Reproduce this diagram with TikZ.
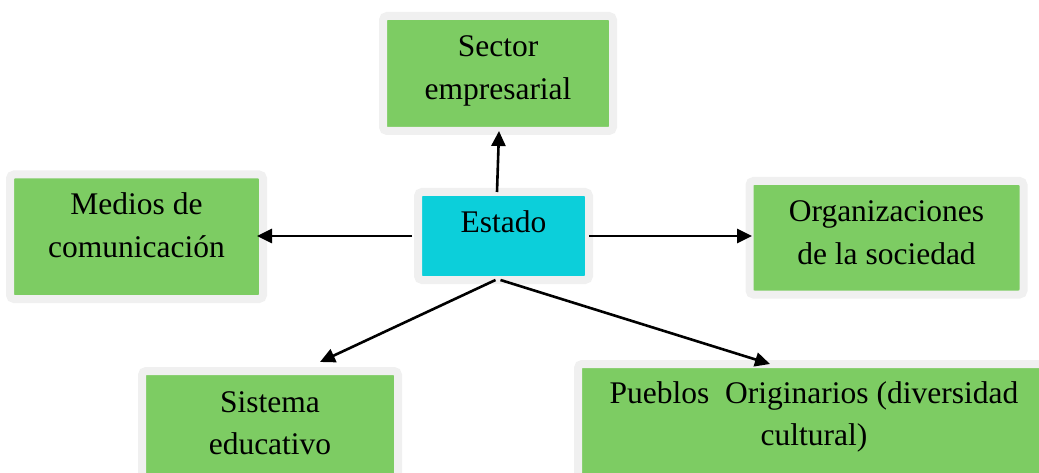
\documentclass[tikz,border=0pt]{standalone}
\usepackage{fontspec}
\setmainfont{Liberation Serif}
\usetikzlibrary{arrows.meta}
\definecolor{boxgreen}{RGB}{125,204,99}
\definecolor{boxcyan}{RGB}{12,207,218}
\definecolor{boxframe}{RGB}{240,240,240}
\def \colorBox{boxgreen}
\def \colorCenter{boxcyan}
\tikzset{
 actor/.style={draw=boxframe, line width=8pt, rounded corners=4pt, fill=\colorBox,
  inner sep=0pt, outer sep=0pt, anchor=north west, align=flush center,
  font=\fontsize{31.5}{42.5}\selectfont},
 link/.style={line width=2.6pt, -{Triangle[length=15pt,width=14pt]}}
}
\begin{document}
\begin{tikzpicture}[x=1pt, y=-1pt]
\clip (0, 0) rectangle (1039, 473);
\node[actor, text width=230pt, text height=41pt, text depth=74pt] (sector) at (383, 16) {Sector\\empresarial};
\node[actor, text width=253pt, text height=40.5pt, text depth=84pt] (medios) at (10, 174.5) {Medios de\\comunicación};
\node[actor, fill=\colorCenter, text width=171pt, text height=41pt, text depth=47pt] (estado) at (418, 192) {Estado};
\node[actor, text width=274pt, text height=41pt, text depth=72.5pt] (orgs) at (749.5, 181) {Organizaciones\\de la sociedad};
\node[actor, text width=256pt, text height=41pt, text depth=120pt] (sistema) at (142, 371) {Sistema\\educativo};
\node[actor, text width=472pt, text height=39pt, text depth=110pt] (pueblos) at (578, 364) {Pueblos\ \ Originarios (diversidad\\cultural)};

\draw[link] ([xshift=-6.5pt]estado.north) -- ([xshift=1pt]sector.south);
\draw[link, shorten >=-6pt] ([xshift=-6pt]estado.west) -- (estado.west -| medios.east);
\draw[link, shorten >=-2.5pt] (estado.east) -- (estado.east -| orgs.west);
\draw[link] ([xshift=-8pt]estado.south) -- ([xshift=50pt, yshift=9pt]sistema.north);
\draw[link] ([xshift=-3pt]estado.south) -- ([xshift=-44pt]pueblos.north);
\end{tikzpicture}
\end{document}
